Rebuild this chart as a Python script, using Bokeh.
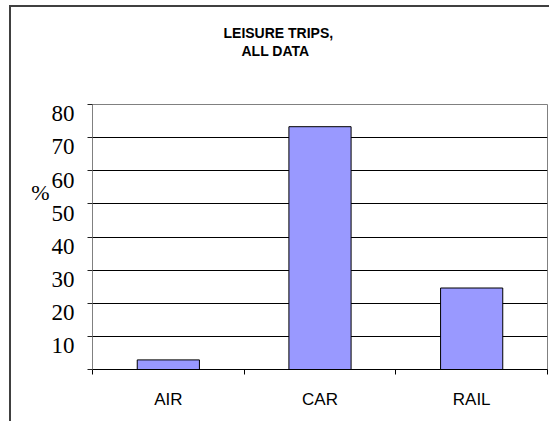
from bokeh.plotting import figure
from bokeh.models import (ColumnDataSource, Range1d, LinearAxis, FixedTicker, Grid, Title)
from bokeh.embed import file_html
from bokeh.resources import INLINE

# ---- data ----
categories = ["AIR", "CAR", "RAIL"]
shares = [2.9, 73.3, 24.6]
y_tick_marks = [0, 10, 20, 30, 40, 50, 60, 70, 80]
y_tick_labels = [10, 20, 30, 40, 50, 60, 70, 80]
grid_values = [10, 20, 30, 40, 50, 60, 70]
title_lines = ["LEISURE TRIPS,", "ALL DATA"]
y_label = "%"
y_max = 80
label_shift = 2.8  # the tick labels sit a little below their gridlines

SANS = "Liberation Sans"
SERIF = "Liberation Serif"

n = len(categories)
centers = [i + 0.5 for i in range(n)]
edges = list(range(n + 1))

p = figure(width=540, height=416,
           x_range=Range1d(0, n), y_range=Range1d(0, y_max),
           x_axis_location=None, y_axis_location=None,
           output_backend="svg", toolbar_location=None,
           min_border_left=81, min_border_right=4,
           min_border_top=97, min_border_bottom=54)
p.styles = {"border-left": "2px solid #404040", "border-top": "2px solid #404040",
            "margin-left": "9px", "margin-top": "5px"}
p.background_fill_color = "white"
p.border_fill_color = "white"
p.outline_line_color = "#808080"
p.outline_line_width = 1

p.extra_y_ranges = {"lbl": Range1d(label_shift, y_max + label_shift)}

# grids
p.xgrid.visible = False
p.ygrid.visible = False
p.add_layout(Grid(dimension=1, ticker=FixedTicker(ticks=grid_values),
                  grid_line_color="black", grid_line_width=1), "center")

# y axis: labels (drawn slightly low, as in the original) + tick marks at the gridlines
yl = LinearAxis(y_range_name="lbl",
                ticker=FixedTicker(ticks=y_tick_labels,
                                   minor_ticks=[v + label_shift for v in y_tick_marks]),
                major_tick_out=0, major_tick_in=0, minor_tick_out=5, minor_tick_in=0,
                axis_line_color="#808080", major_tick_line_color=None,
                minor_tick_line_color="#222222",
                major_label_standoff=13, major_label_text_font=SERIF,
                major_label_text_font_size="23px", major_label_text_color="black",
                axis_label=y_label + "\n \n \n ", axis_label_orientation="horizontal",
                axis_label_standoff=-1, axis_label_text_font=SERIF,
                axis_label_text_font_size="22px", axis_label_text_font_style="normal",
                axis_label_text_color="black")
p.add_layout(yl, "left")

# x axis: labels at category centres, tick marks at category boundaries
xa = LinearAxis(ticker=FixedTicker(ticks=centers, minor_ticks=edges),
                major_label_overrides={c: lab for c, lab in zip(centers, categories)},
                major_tick_out=0, major_tick_in=0, minor_tick_out=5, minor_tick_in=0,
                axis_line_color="black", major_tick_line_color=None,
                minor_tick_line_color="black",
                major_label_standoff=15, major_label_text_font=SANS,
                major_label_text_font_size="17px", major_label_text_color="black")
p.add_layout(xa, "below")

src = ColumnDataSource(dict(x=centers, cat=categories, share=shares))
p.vbar(x="x", top="share", width=0.41, source=src,
       fill_color="#9999FF", line_color="black", line_width=1)

# title: a spacer next to the frame, then the two lines stacked upward
title_style = dict(text_font=SANS, text_font_size="14px", text_font_style="bold",
                   text_color="black", align="left", standoff=0)
p.add_layout(Title(text=" ", standoff=28, text_font=SANS, text_font_size="14px"), "above")
p.add_layout(Title(text=title_lines[1], offset=149, **title_style), "above")
p.add_layout(Title(text=title_lines[0], offset=131, **title_style), "above")

open("out.html", "w").write(file_html(p, INLINE))
